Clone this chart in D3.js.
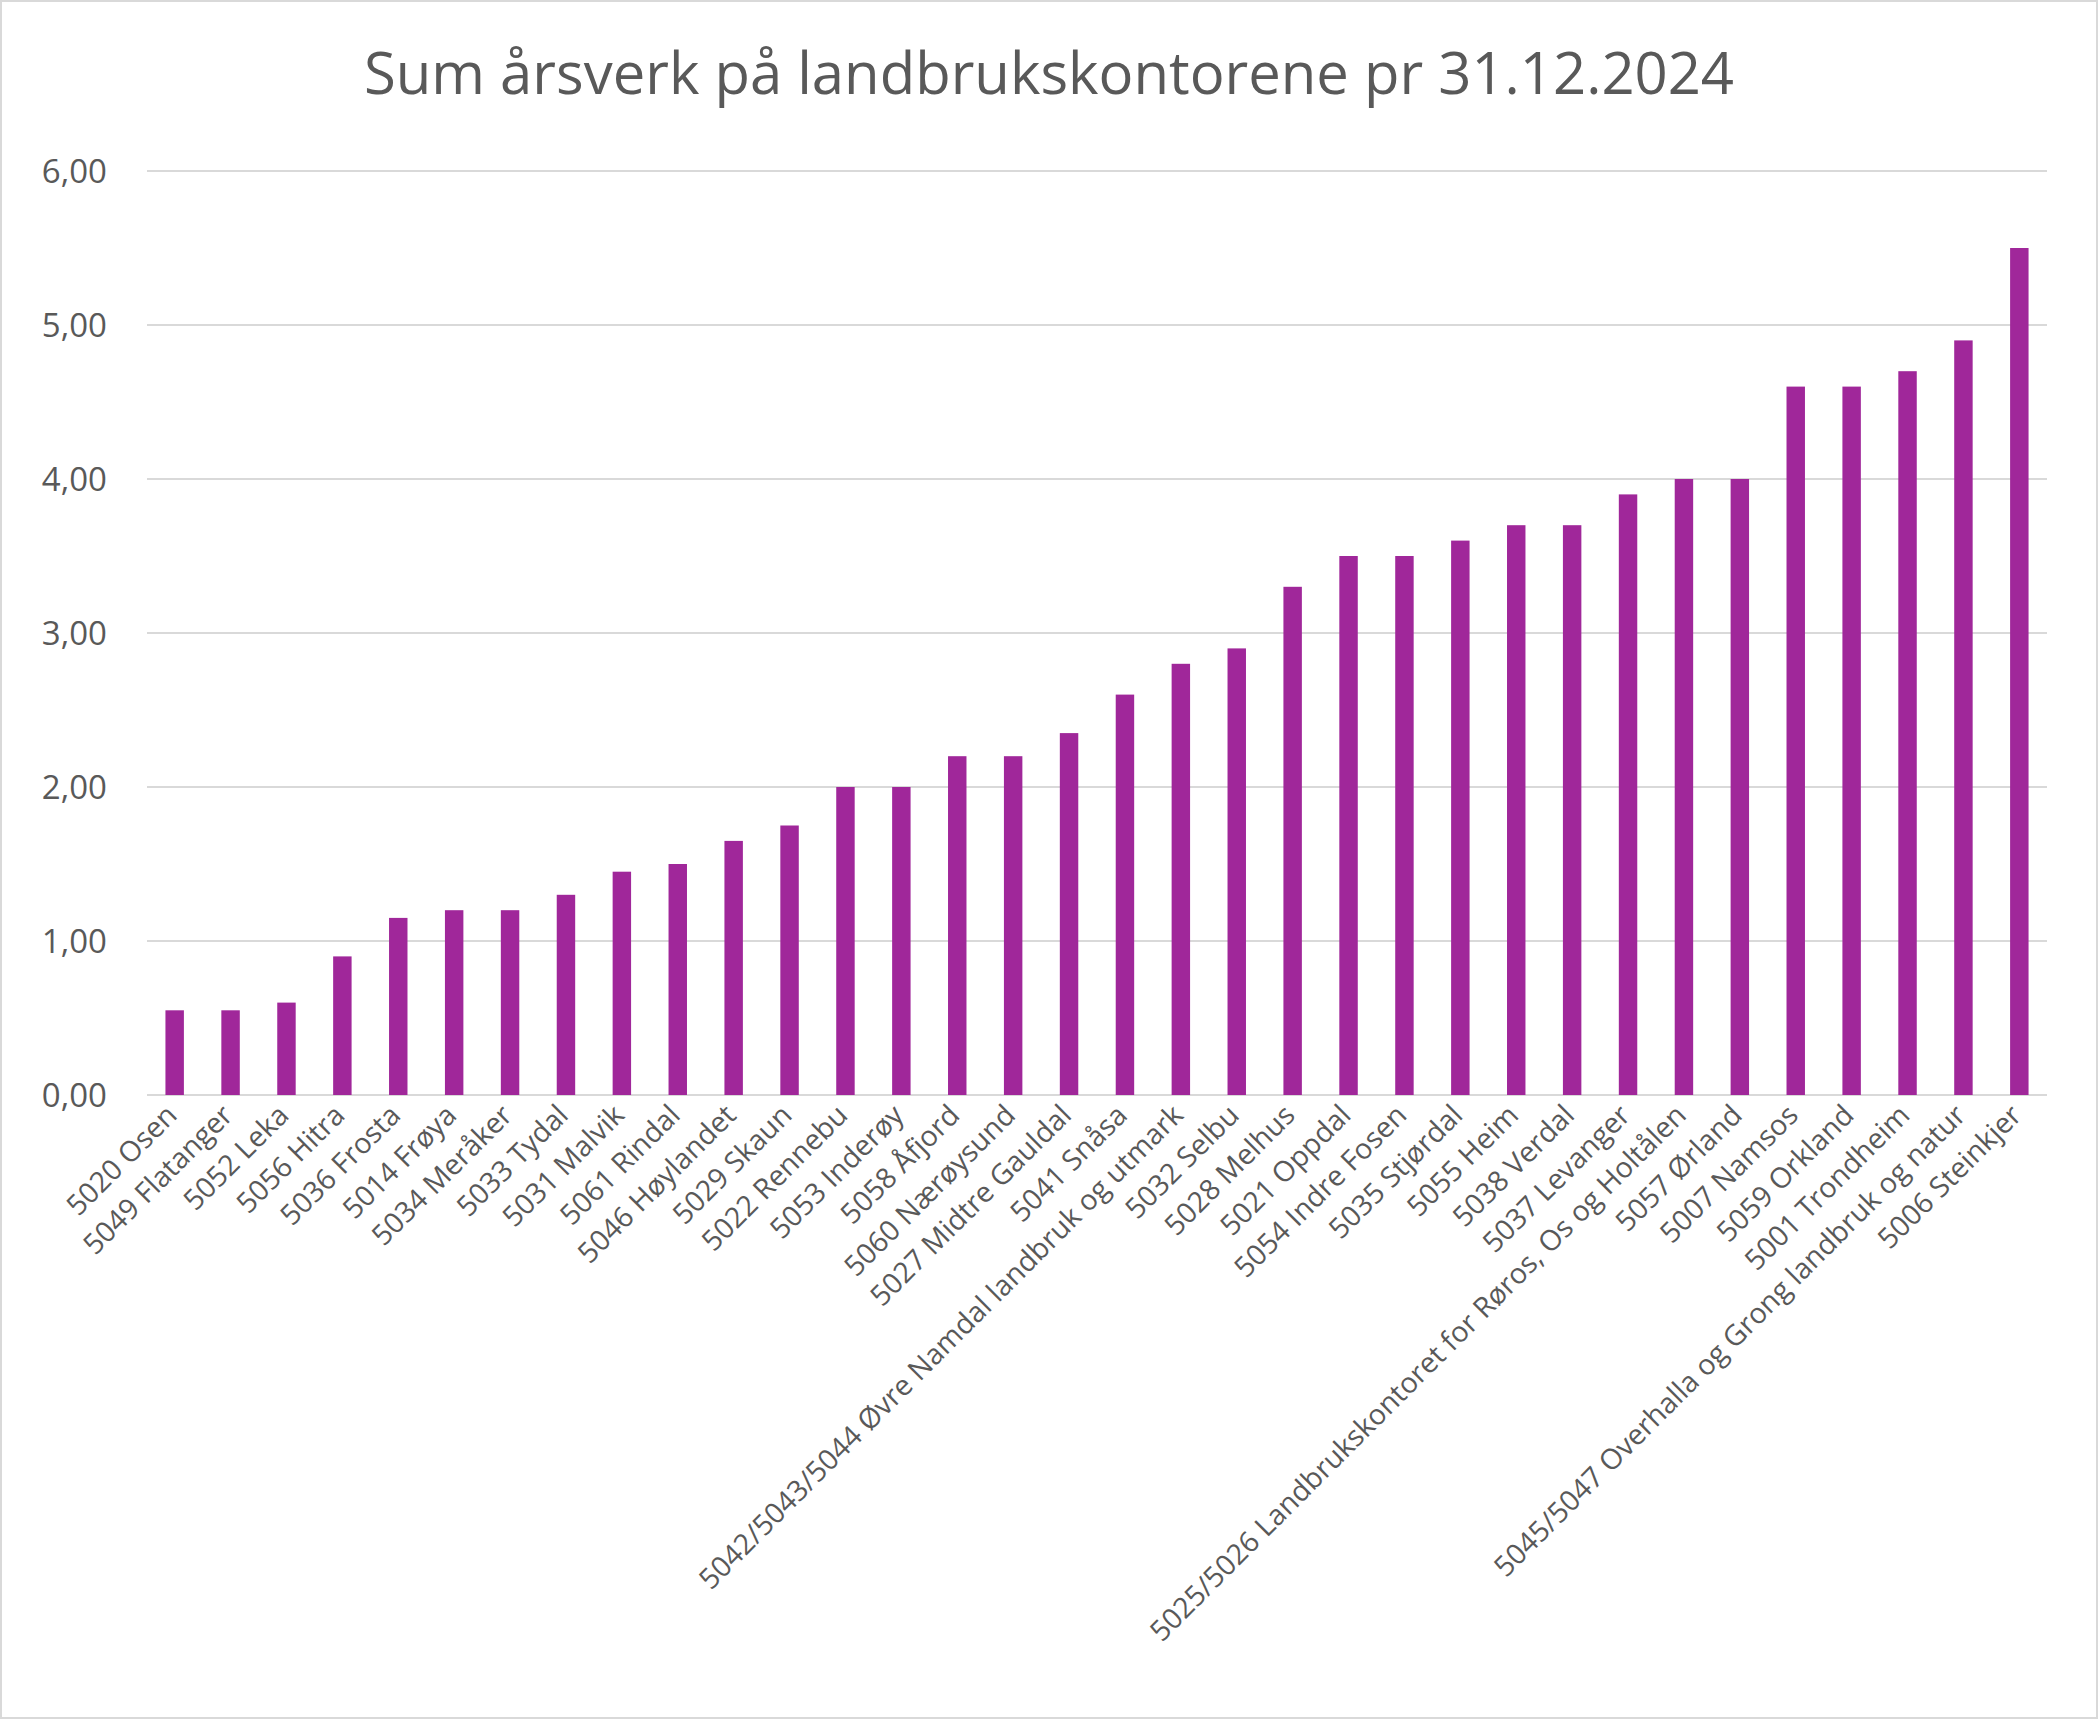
<!DOCTYPE html>
<html><head><meta charset="utf-8">
<script src="https://cdn.jsdelivr.net/npm/d3@7"></script>
<style>body{margin:0;background:#fff}svg{display:block;font-family:"Open Sans",Roboto,sans-serif}</style>
</head><body><svg id="chart" width="2098" height="1719"></svg>
<script>
const categories = ["5020 Osen","5049 Flatanger","5052 Leka","5056 Hitra","5036 Frosta","5014 Frøya","5034 Meråker","5033 Tydal","5031 Malvik","5061 Rindal","5046 Høylandet","5029 Skaun","5022 Rennebu","5053 Inderøy","5058 Åfjord","5060 Nærøysund","5027 Midtre Gauldal","5041 Snåsa","5042/5043/5044 Øvre Namdal landbruk og utmark","5032 Selbu","5028 Melhus","5021 Oppdal","5054 Indre Fosen","5035 Stjørdal","5055 Heim","5038 Verdal","5037 Levanger","5025/5026 Landbrukskontoret for Røros, Os og Holtålen","5057 Ørland","5007 Namsos","5059 Orkland","5001 Trondheim","5045/5047 Overhalla og Grong landbruk og natur","5006 Steinkjer"];
const values = [0.55,0.55,0.6,0.9,1.15,1.2,1.2,1.3,1.45,1.5,1.65,1.75,2,2,2.2,2.2,2.35,2.6,2.8,2.9,3.3,3.5,3.5,3.6,3.7,3.7,3.9,4,4,4.6,4.6,4.7,4.9,5.5];
const yTicks = [0,1,2,3,4,5,6];

const svg = d3.select("#chart");
svg.append("rect").attr("x",1).attr("y",1).attr("width",2096).attr("height",1717)
  .attr("fill","#fff").attr("stroke","#d9d9d9").attr("stroke-width",2);
const m = {l:147, r:2047, t:171, b:1095};
const x = d3.scaleBand().domain(categories).range([m.l, m.r]).paddingInner(0.67).paddingOuter(0.33);
const y = d3.scaleLinear().domain([0,6]).range([m.b, m.t]);
const fmt = d => d3.format(".2f")(d).replace(".", ",");

svg.append("g").selectAll("line").data(yTicks).join("line")
  .attr("x1", m.l).attr("x2", m.r).attr("y1", d=>y(d)).attr("y2", d=>y(d))
  .attr("stroke", "#d9d9d9").attr("stroke-width", 2);
svg.append("g").selectAll("text").data(yTicks).join("text")
  .attr("x", 107).attr("y", d=>y(d)).attr("dy","0.35em").attr("text-anchor","end")
  .attr("font-size", 33).attr("fill","#595959").text(fmt);

svg.append("g").selectAll("rect").data(values).join("rect")
  .attr("x", (d,i)=>x(categories[i])).attr("width", x.bandwidth())
  .attr("y", d=>y(d)).attr("height", d=>y(0)-y(d)).attr("fill","#A0279A");

svg.append("g").selectAll("text").data(categories).join("text")
  .attr("transform", d=>`translate(${x(d)+x.bandwidth()/2+4},${m.b+22}) rotate(-45)`)
  .attr("text-anchor","end").attr("font-size", 28.5).attr("fill","#595959").text(d=>d);

svg.append("text").attr("x", 1049).attr("y", 94).attr("text-anchor","middle")
  .attr("font-size", 58).attr("fill","#595959").text("Sum årsverk på landbrukskontorene pr 31.12.2024");
</script></body></html>
